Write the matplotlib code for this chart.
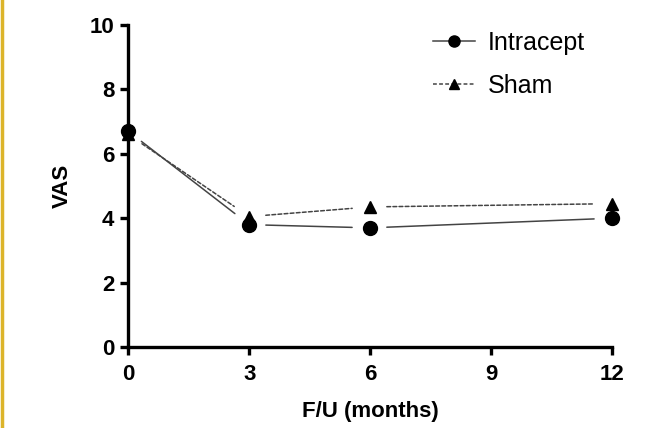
import matplotlib
matplotlib.use("Agg")
import matplotlib.pyplot as plt
from matplotlib.lines import Line2D
from matplotlib.patches import FancyArrowPatch

plt.rcParams['font.family'] = ['Liberation Sans', 'DejaVu Sans']

months = [0, 3, 6, 12]
intracept = [6.7, 3.8, 3.7, 4.0]
sham = [6.6, 4.05, 4.35, 4.45]
xticks = [0, 3, 6, 9, 12]
yticks = [0, 2, 4, 6, 8, 10]

fig = plt.figure(figsize=(6.54, 4.28), dpi=100)
ax = fig.add_axes([0.196, 0.189, 0.740, 0.753])

def draw_series(x, y, ls, marker, ms, z):
    # prism style: lines stop short of the markers
    for i in range(len(x) - 1):
        seg = FancyArrowPatch((x[i], y[i]), (x[i + 1], y[i + 1]),
                              arrowstyle='-', color='#444444', lw=1.1,
                              linestyle=ls, shrinkA=12, shrinkB=13,
                              transform=ax.transData)
        ax.add_patch(seg)
    ax.plot(x, y, linestyle='none', marker=marker, ms=ms, color='black',
            clip_on=False, zorder=z)

draw_series(months, sham, (0, (2.5, 1.5)), '^', 9, 3)
draw_series(months, intracept, '-', 'o', 10, 4)

ax.set_xlim(0, 12)
ax.set_ylim(0, 10)
ax.set_xticks(xticks)
ax.set_yticks(yticks)
ax.spines['top'].set_visible(False)
ax.spines['right'].set_visible(False)
for s in ['left', 'bottom']:
    ax.spines[s].set_linewidth(2.4)
ax.tick_params(width=2.4, length=6, labelsize=16)
ax.tick_params(axis='x', pad=6)
ax.tick_params(axis='y', pad=4)
for lab in ax.get_xticklabels() + ax.get_yticklabels():
    lab.set_fontweight('bold')

ax.set_xlabel('F/U (months)', fontsize=16, fontweight='bold', labelpad=12)
ax.set_ylabel('VAS', fontsize=16, fontweight='bold', labelpad=12)

handles = [
    Line2D([], [], color='#444444', lw=1.1, marker='o', ms=8,
           markerfacecolor='black', markeredgecolor='black'),
    Line2D([], [], color='#444444', lw=1.1, linestyle=(0, (2.5, 1.5)),
           marker='^', ms=7, markerfacecolor='black', markeredgecolor='black'),
]
ax.legend(handles, ['Intracept', 'Sham'], loc='upper right',
          bbox_to_anchor=(0.99, 1.05), frameon=False, fontsize=18,
          handlelength=1.7, labelspacing=0.75, handletextpad=0.5)

fig.add_artist(Line2D([0.0025, 0.0025], [0, 1], color='#dcb42a', lw=2.5))

fig.savefig('out.png', dpi=100)
